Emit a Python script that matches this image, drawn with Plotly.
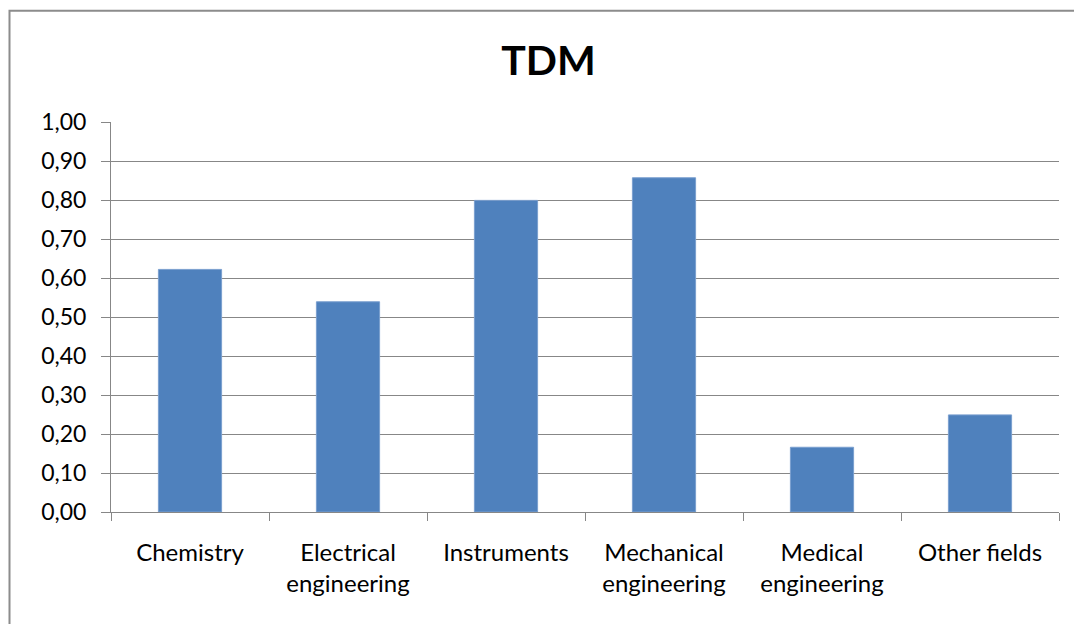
import plotly.graph_objects as go

categories = ["Chemistry", "Electrical<br>engineering", "Instruments",
              "Mechanical<br>engineering", "Medical<br>engineering", "Other fields"]
tdm_values = [0.622, 0.539, 0.799, 0.857, 0.166, 0.249]
y_ticks = [0.0, 0.1, 0.2, 0.3, 0.4, 0.5, 0.6, 0.7, 0.8, 0.9, 1.0]

FONT = "Lato, 'Open Sans', 'Liberation Sans', sans-serif"
GRID = "#878787"

fig = go.Figure(
    go.Bar(
        x=categories,
        y=tdm_values,
        marker=dict(color="#4F81BD", line=dict(color="#7A9FCF", width=1)),
    )
)

W, H = 1074, 624
ml, mr, mt, mb = 111, 15, 122, 111.5
pw = W - ml - mr
ph = H - mt - mb

def px_x(p):
    return (p - ml) / pw

def px_y(p):
    return (H - mb - p) / ph

fig.update_layout(
    width=W,
    height=H,
    margin=dict(l=ml, r=mr, t=mt, b=mb),
    paper_bgcolor="white",
    plot_bgcolor="white",
    separators=",.",
    showlegend=False,
    bargap=0.6,
    font=dict(family=FONT, size=22, color="#000000"),
    title=dict(
        text="<b>TDM</b>",
        xref="container",
        x=548.5 / W,
        xanchor="center",
        yref="container",
        y=1 - 61 / H,
        yanchor="middle",
        font=dict(family=FONT, size=41, color="#000000"),
    ),
    xaxis=dict(
        showline=True,
        linecolor=GRID,
        linewidth=1,
        ticks="outside",
        tickson="boundaries",
        ticklen=8,
        tickcolor=GRID,
        showgrid=False,
        ticklabelstandoff=19,
        tickfont=dict(family=FONT, size=24, color="#000000"),
    ),
    yaxis=dict(
        range=[0, 1.0],
        tickvals=y_ticks,
        tickformat=".2f",
        showline=True,
        linecolor=GRID,
        linewidth=1,
        ticks="outside",
        ticklen=9,
        tickcolor=GRID,
        showgrid=True,
        gridcolor=GRID,
        gridwidth=1,
        zeroline=False,
        ticklabelstandoff=10,
        tickfont=dict(family=FONT, size=23, color="#000000"),
    ),
    shapes=[
        dict(
            type="rect",
            xref="paper",
            yref="paper",
            x0=px_x(9.5),
            x1=px_x(1085),
            y0=px_y(640),
            y1=px_y(10.5),
            line=dict(color="#8C8C8C", width=2),
            fillcolor="rgba(0,0,0,0)",
            layer="below",
        )
    ],
)

fig.write_html("out.html")
